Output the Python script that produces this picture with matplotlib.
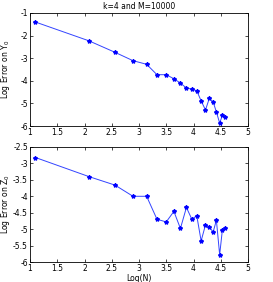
import matplotlib
matplotlib.use("Agg")
import matplotlib.pyplot as plt

logN = [1.10, 2.08, 2.56, 2.89, 3.14, 3.33, 3.50, 3.64, 3.76, 3.87,
        3.97, 4.06, 4.14, 4.22, 4.29, 4.36, 4.42, 4.48, 4.53, 4.58]
errY = [-1.40, -2.23, -2.74, -3.11, -3.27, -3.73, -3.73, -3.91, -4.10, -4.32,
        -4.37, -4.44, -4.89, -5.29, -4.78, -4.93, -5.38, -5.87, -5.53, -5.58]
errZ = [-2.82, -3.40, -3.66, -4.00, -4.00, -4.70, -4.78, -4.46, -4.98, -4.34,
        -4.70, -4.59, -5.36, -4.87, -4.93, -5.09, -4.73, -5.78, -5.02, -4.97]
xticks = [1, 1.5, 2, 2.5, 3, 3.5, 4, 4.5, 5]

W, H = 273, 282
fig = plt.figure(figsize=(W/100, H/100), dpi=100)
fs = 5.5

def mk(l, t, r, b):
    return fig.add_axes([l/W, 1-b/H, (r-l)/W, (b-t)/H])

ax1 = mk(30, 13, 248, 126)
ax2 = mk(30, 147, 248, 262)

for ax, y, ylim, yt, lab in [
    (ax1, errY, (-6, -1), [-6, -5, -4, -3, -2, -1], 'Log Error on Y$_0$'),
    (ax2, errZ, (-6, -2.5), [-6, -5.5, -5, -4.5, -4, -3.5, -3, -2.5], 'Log Error on Z$_0$')]:
    ax.plot(logN, y, color='#3344ff', lw=0.7, marker='*', ms=3, mfc='#0000ff', mec='#0000ff')
    ax.set_xlim(1, 5)
    ax.set_ylim(*ylim)
    ax.set_xticks(xticks)
    ax.set_xticklabels([f'{v:g}' for v in xticks])
    ax.set_yticks(yt)
    ax.set_yticklabels([f'{v:g}' for v in yt])
    ax.tick_params(direction='in', top=True, right=True, labelsize=fs, length=2, width=0.5, pad=1.5)
    for s in ax.spines.values():
        s.set_linewidth(0.6)
    ax.set_ylabel(lab, fontsize=fs)
    ax.yaxis.set_label_coords(-0.082, 0.5)

ax1.set_title('k=4 and M=10000', fontsize=fs, pad=3)
ax2.set_xlabel('Log(N)', fontsize=fs, labelpad=1)

fig.savefig('out.png', dpi=100)
